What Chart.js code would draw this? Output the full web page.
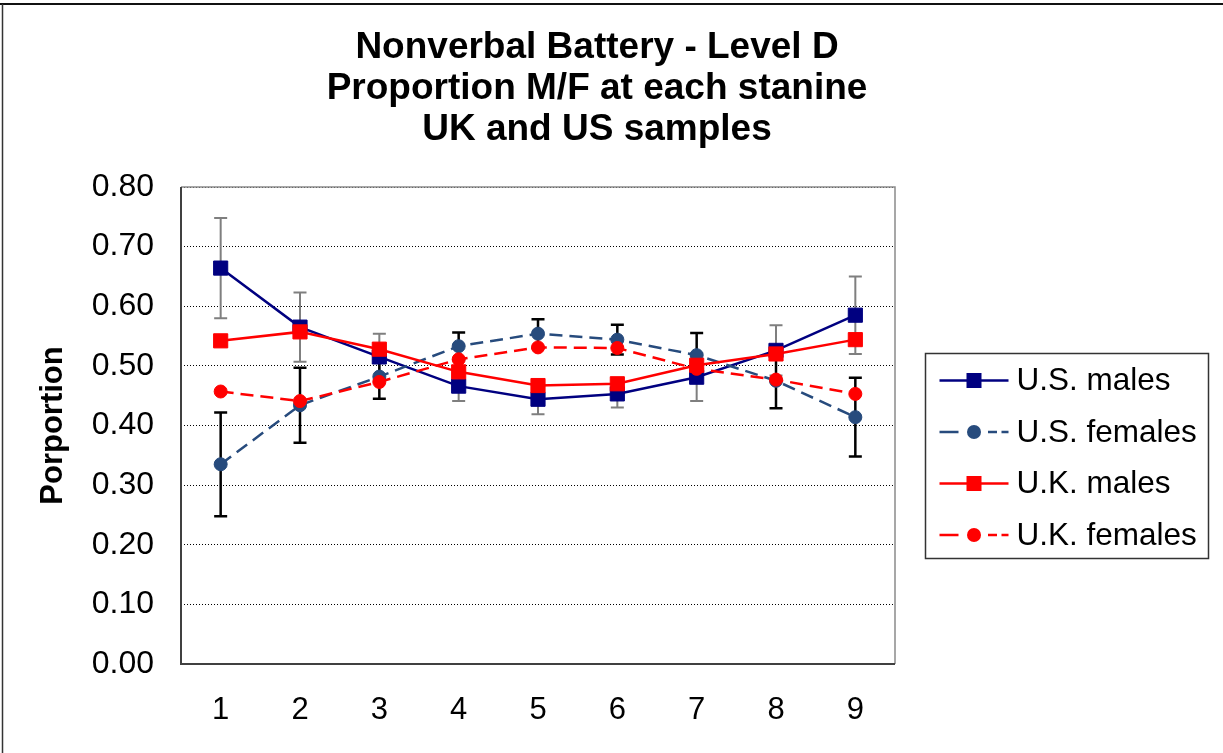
<!DOCTYPE html>
<html>
<head>
<meta charset="utf-8">
<script src="https://cdn.jsdelivr.net/npm/chart.js@4.4.1/dist/chart.umd.min.js"></script>
<style>
  html, body { margin: 0; padding: 0; background: #fff; }
  canvas { display: block; }
</style>
</head>
<body>
<canvas id="chart" width="1223" height="753"></canvas>
<script>
// Stanine categories on the x axis
const stanines = ['1', '2', '3', '4', '5', '6', '7', '8', '9'];

// Proportion of each group at each stanine
const usMales     = [0.664, 0.565, 0.515, 0.466, 0.444, 0.453, 0.481, 0.526, 0.585];
const usFemales   = [0.335, 0.434, 0.482, 0.533, 0.554, 0.544, 0.518, 0.475, 0.414];
const ukMales     = [0.542, 0.557, 0.528, 0.490, 0.467, 0.470, 0.501, 0.520, 0.544];
const ukFemales   = [0.457, 0.441, 0.473, 0.511, 0.531, 0.530, 0.495, 0.477, 0.453];

// Half-widths of the error bars on the U.S. series
const usMalesErr   = [0.084, 0.058, 0.039, 0.025, 0.025, 0.023, 0.040, 0.042, 0.065];
const usFemalesErr = [0.087, 0.063, 0.037, 0.023, 0.024, 0.025, 0.037, 0.046, 0.066];

// Y axis tick values
const proportionTicks = [0.00, 0.10, 0.20, 0.30, 0.40, 0.50, 0.60, 0.70, 0.80];

const seriesLabels = ['U.S. males', 'U.S. females', 'U.K. males', 'U.K. females'];
const titleLines = ['Nonverbal Battery - Level D', 'Proportion M/F at each stanine', 'UK and US samples'];

const FONT = "'Liberation Sans', Arial, Helvetica, sans-serif";
const NAVY = '#000080';
const STEEL = '#274B7D';
const RED = '#FF0000';
const DASH = [13, 7];

Chart.defaults.font.family = FONT;
Chart.defaults.color = '#000';

// White page with the frame lines along the top and left edge
const pageBackground = {
  id: 'pageBackground',
  beforeDraw(chart) {
    const ctx = chart.ctx;
    ctx.save();
    ctx.fillStyle = '#fff';
    ctx.fillRect(0, 0, chart.width, chart.height);
    ctx.restore();
  },
  afterDraw(chart) {
    const ctx = chart.ctx;
    ctx.save();
    ctx.setLineDash([]);
    ctx.strokeStyle = '#111';
    ctx.lineWidth = 2;
    ctx.beginPath();
    ctx.moveTo(0, 4); ctx.lineTo(chart.width, 4);
    ctx.stroke();
    ctx.strokeStyle = '#333';
    ctx.lineWidth = 1.5;
    ctx.beginPath();
    ctx.moveTo(2.5, 4); ctx.lineTo(2.5, chart.height);
    ctx.stroke();
    ctx.restore();
  }
};

// Frame around the plot area
const plotFrame = {
  id: 'plotFrame',
  afterDatasetsDraw(chart) {
    const { ctx, chartArea: a } = chart;
    ctx.save();
    ctx.setLineDash([]);
    ctx.strokeStyle = '#8a8a8a';
    ctx.lineWidth = 1.5;
    ctx.beginPath();
    ctx.moveTo(a.left, a.top); ctx.lineTo(a.right, a.top); ctx.lineTo(a.right, a.bottom);
    ctx.stroke();
    ctx.strokeStyle = '#404040';
    ctx.lineWidth = 2;
    ctx.beginPath();
    ctx.moveTo(a.left, a.top); ctx.lineTo(a.left, a.bottom); ctx.lineTo(a.right, a.bottom);
    ctx.stroke();
    ctx.restore();
  }
};

// Vertical error bars with caps, drawn beneath the lines
const errorBars = {
  id: 'errorBars',
  beforeDatasetsDraw(chart) {
    const { ctx, scales: { x, y } } = chart;
    const sets = [
      { values: usMales, err: usMalesErr, color: '#7f7f7f', width: 2 },
      { values: usFemales, err: usFemalesErr, color: '#000', width: 2.5 }
    ];
    ctx.save();
    ctx.setLineDash([]);
    sets.forEach(s => {
      ctx.strokeStyle = s.color;
      ctx.lineWidth = s.width;
      s.values.forEach((v, i) => {
        const px = x.getPixelForValue(i);
        const top = y.getPixelForValue(v + s.err[i]);
        const bot = y.getPixelForValue(v - s.err[i]);
        ctx.beginPath();
        ctx.moveTo(px, top); ctx.lineTo(px, bot);
        ctx.moveTo(px - 6.5, top); ctx.lineTo(px + 6.5, top);
        ctx.moveTo(px - 6.5, bot); ctx.lineTo(px + 6.5, bot);
        ctx.stroke();
      });
    });
    ctx.restore();
  }
};

// Boxed legend on the right, each entry showing its line and marker
const boxedLegend = {
  id: 'boxedLegend',
  afterDraw(chart) {
    const ctx = chart.ctx;
    const a = chart.chartArea;
    const left = a.right + 30.5, top = 353.5, w = 283, h = 205;
    ctx.save();
    ctx.setLineDash([]);
    ctx.strokeStyle = '#333';
    ctx.lineWidth = 1.5;
    ctx.strokeRect(left, top, w, h);
    chart.data.datasets.forEach((ds, row) => {
      const cy = top + 27 + row * 51.5;
      const x0 = left + 14, x1 = left + 83, xm = (x0 + x1) / 2;
      ctx.strokeStyle = ds.borderColor;
      ctx.lineWidth = 2.5;
      ctx.setLineDash([]);
      ctx.beginPath();
      if (ds.borderDash && ds.borderDash.length) {
        // short dashes either side of the marker
        ctx.moveTo(x0, cy); ctx.lineTo(x0 + 19, cy);
        ctx.moveTo(xm + 14, cy); ctx.lineTo(xm + 23, cy);
        ctx.moveTo(x1 - 7, cy); ctx.lineTo(x1, cy);
      } else {
        ctx.moveTo(x0, cy); ctx.lineTo(x1, cy);
      }
      ctx.stroke();
      ctx.fillStyle = ds.pointBackgroundColor;
      if (ds.pointStyle === 'rect') {
        ctx.fillRect(xm - 7.5, cy - 7.5, 15, 15);
      } else {
        ctx.beginPath();
        ctx.arc(xm, cy, 7, 0, Math.PI * 2);
        ctx.fill();
      }
      ctx.fillStyle = '#000';
      ctx.font = '31.5px ' + FONT;
      ctx.textAlign = 'left';
      ctx.textBaseline = 'middle';
      ctx.fillText(ds.label, x1 + 8, cy + 1);
    });
    ctx.restore();
  }
};

function lineSeries(label, data, color, style, dashed, order) {
  return {
    label,
    data,
    borderColor: color,
    backgroundColor: color,
    pointBackgroundColor: color,
    pointBorderColor: color,
    pointBorderWidth: 1,
    pointStyle: style,
    pointRadius: style === 'rect' ? 10 : 6.5,
    pointHoverRadius: style === 'rect' ? 10 : 6.5,
    borderWidth: 2.5,
    borderDash: dashed ? DASH : [],
    tension: 0,
    fill: false,
    order
  };
}

new Chart(document.getElementById('chart'), {
  type: 'line',
  data: {
    labels: stanines,
    datasets: [
      lineSeries(seriesLabels[0], usMales, NAVY, 'rect', false, 4),
      lineSeries(seriesLabels[1], usFemales, STEEL, 'circle', true, 3),
      lineSeries(seriesLabels[2], ukMales, RED, 'rect', false, 2),
      lineSeries(seriesLabels[3], ukFemales, RED, 'circle', true, 1)
    ]
  },
  options: {
    responsive: false,
    animation: false,
    devicePixelRatio: 1,
    layout: { padding: { left: 0, right: 29, top: 0, bottom: 0 } },
    plugins: {
      legend: { display: false },
      tooltip: { enabled: false },
      title: {
        display: true,
        text: titleLines,
        color: '#000',
        font: { family: FONT, size: 37, weight: 'bold', lineHeight: 41 / 37 },
        padding: { top: 27, bottom: 37 }
      }
    },
    scales: {
      x: {
        type: 'category',
        offset: true,
        grid: { display: false, drawTicks: false },
        border: { display: false },
        ticks: { font: { size: 31 }, color: '#000', padding: 28, maxRotation: 0 },
        afterFit(s) { s.height = 89; }
      },
      y: {
        position: 'left',
        min: 0,
        max: 0.8,
        afterBuildTicks(s) { s.ticks = proportionTicks.map(v => ({ value: v })); },
        grid: { color: '#000', lineWidth: 1, drawTicks: false },
        border: { display: false, dash: [1, 2] },
        ticks: {
          font: { size: 32 },
          color: '#000',
          padding: 27,
          callback: v => Number(v).toFixed(2)
        },
        title: {
          display: true,
          text: 'Porportion',
          color: '#000',
          font: { size: 31, weight: 'bold' },
          padding: { top: 35, bottom: 0 }
        },
        afterFit(s) { s.width = 181; }
      },
      legendSpace: {
        type: 'linear',
        position: 'right',
        display: true,
        grid: { display: false, drawTicks: false },
        border: { display: false },
        ticks: { display: false },
        afterFit(s) { s.width = 299; }
      }
    }
  },
  plugins: [pageBackground, errorBars, plotFrame, boxedLegend]
});
</script>
</body>
</html>
